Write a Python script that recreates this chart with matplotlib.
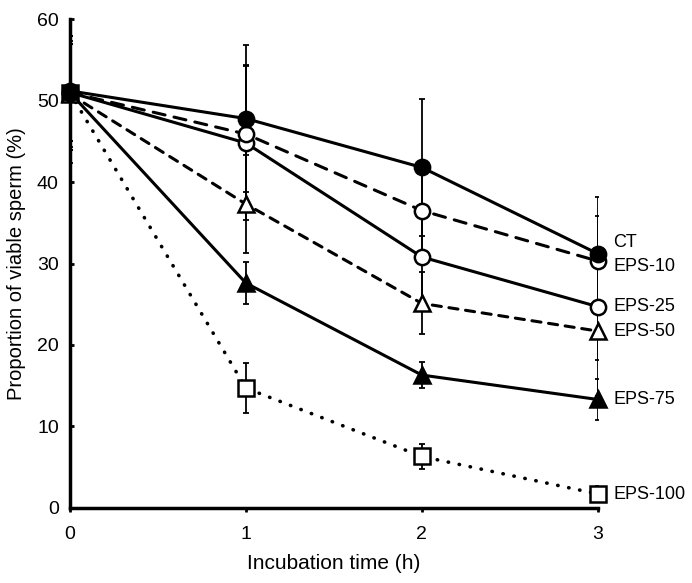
import matplotlib
matplotlib.use('Agg')
import matplotlib.pyplot as plt

plt.rcParams['font.family'] = ['Liberation Sans', 'DejaVu Sans']

hours = [0, 1, 2, 3]

# mean proportion of viable sperm (%) and error bars
ct = [51.2, 47.8, 41.8, 31.2]
ct_err = [8.8, 9.0, 8.4, 7.0]
eps10 = [51.0, 45.9, 36.5, 30.3]
eps10_err = [7.0, 8.5, 6.0, 5.5]
eps25 = [51.0, 44.8, 30.8, 24.7]
eps25_err = [7.0, 9.5, 6.5, 6.5]
eps50 = [50.8, 37.3, 25.1, 21.7]
eps50_err = [6.5, 6.0, 3.8, 8.0]
eps75 = [51.0, 27.6, 16.3, 13.3]
eps75_err = [6.0, 2.6, 1.6, 2.5]
eps100 = [51.0, 14.7, 6.3, 1.7]
eps100_err = [6.0, 3.1, 1.5, 1.0]

series_names = ['CT', 'EPS-10', 'EPS-25', 'EPS-50', 'EPS-75', 'EPS-100']
label_y = [32.6, 29.6, 24.7, 21.6, 13.3, 1.6]

fig = plt.figure(figsize=(6.92, 5.83), dpi=100)
ax = fig.add_axes([0.101, 0.129, 0.763, 0.838])

# drawn bottom to top so the CT filled circle ends up in front at t=0
styles = [
    (eps100, eps100_err, 's', 'white', (0, (0.1, 3.0)), 2.6),
    (eps75, eps75_err, '^', 'black', (0, ()), 2.2),
    (eps50, eps50_err, '^', 'white', (0, (3, 2.5)), 2.2),
    (eps25, eps25_err, 'o', 'white', (0, ()), 2.2),
    (eps10, eps10_err, 'o', 'white', (0, (4, 3)), 2.2),
    (ct, ct_err, 'o', 'black', (0, ()), 2.2),
]

for i, (vals, err, mk, face, ls, lw) in enumerate(styles):
    ax.errorbar(hours, vals, yerr=err, fmt='none', ecolor='black',
                elinewidth=1.3, capsize=2.5, capthick=1.3, zorder=2)
    line, = ax.plot(hours, vals, color='black', linewidth=lw, linestyle=ls,
                    marker=mk, markersize=11, markerfacecolor=face,
                    markeredgecolor='black', markeredgewidth=1.8,
                    zorder=3 + i, clip_on=False)
    line.set_dash_capstyle('round')

for name, y in zip(series_names, label_y):
    ax.annotate(name, xy=(3, y), xytext=(11, 0), textcoords='offset points',
                fontsize=13, va='center', ha='left', annotation_clip=False)

ax.set_xlim(0, 3)
ax.set_ylim(0, 60)
ax.set_xticks([0, 1, 2, 3])
ax.set_yticks(range(0, 61, 10))
ax.spines['top'].set_visible(False)
ax.spines['right'].set_visible(False)
ax.spines['left'].set_linewidth(2.5)
ax.spines['bottom'].set_linewidth(2.5)
ax.tick_params(axis='y', direction='in', length=3, width=2, labelsize=14, pad=8)
ax.tick_params(axis='x', direction='out', length=3, width=2, labelsize=14, pad=10)

ax.set_xlabel('Incubation time (h)', fontsize=15, labelpad=8)
ax.set_ylabel('Proportion of viable sperm (%)', fontsize=14.5, labelpad=8)

plt.savefig('out.png', dpi=100)
